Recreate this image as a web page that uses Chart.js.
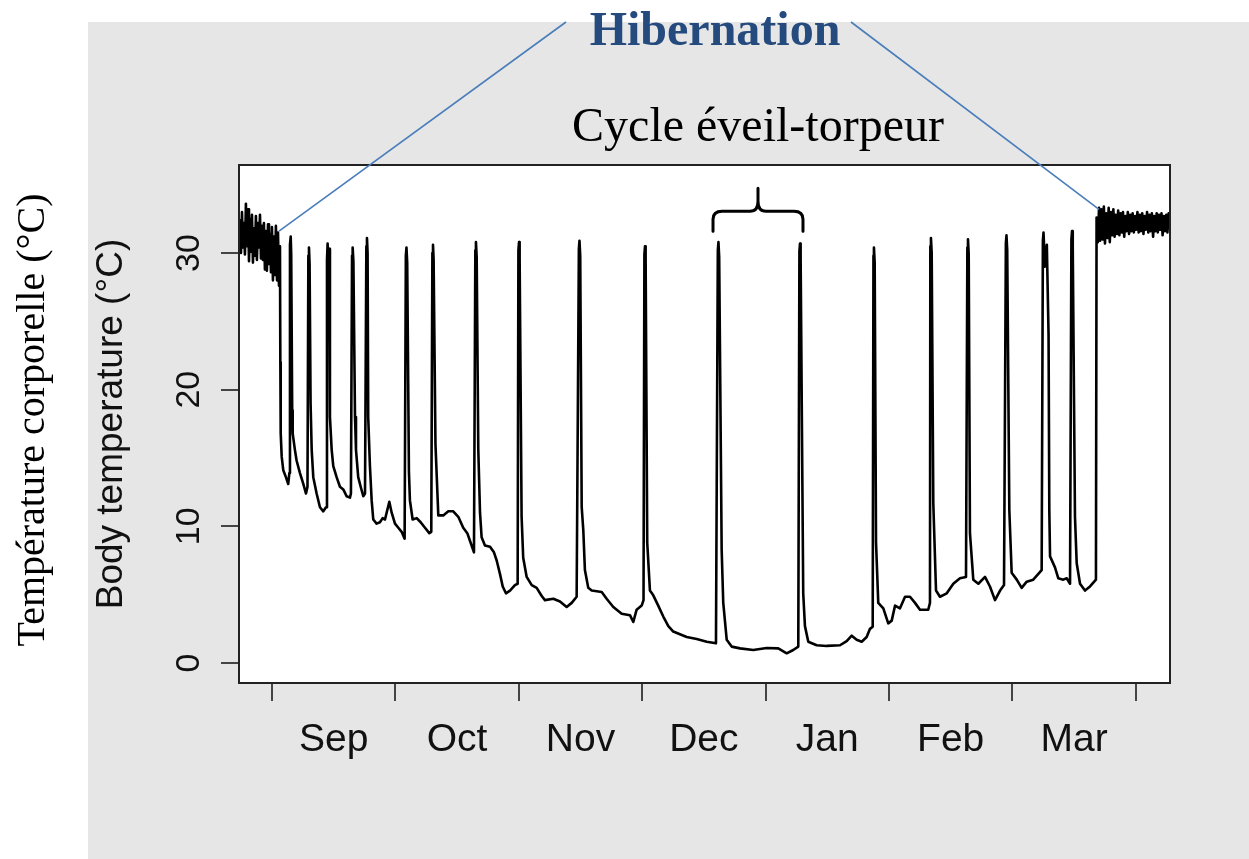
<!DOCTYPE html>
<html>
<head>
<meta charset="utf-8">
<title>Hibernation - température corporelle</title>
<script src="https://cdn.jsdelivr.net/npm/chart.js@4.4.1/dist/chart.umd.min.js"></script>
<style>
  html, body { margin: 0; padding: 0; background: #fff; }
  #wrap { position: relative; width: 1249px; height: 859px; }
</style>
</head>
<body>
<div id="wrap"><canvas id="chart" width="1249" height="859"></canvas></div>
<script>
// x = position in months, 0 = start of September (one unit per month tick)
const monthLabels = ['Sep', 'Oct', 'Nov', 'Dec', 'Jan', 'Feb', 'Mar'];
const monthTicks = [0, 1, 2, 3, 4, 5, 6, 7];
const tempTicks = [0, 10, 20, 30];

// euthermic phase before hibernation (noisy band)
const activeStartMonth = [-0.267, -0.259, -0.251, -0.243, -0.235, -0.227, -0.219, -0.211, -0.203, -0.194,
  -0.186, -0.178, -0.170, -0.162, -0.154, -0.146, -0.138, -0.130, -0.122, -0.113,
  -0.105, -0.097, -0.089, -0.081, -0.073, -0.065, -0.057, -0.049, -0.041, -0.032,
  -0.024, -0.016, -0.008, 0, 0.008, 0.016, 0.024, 0.032, 0.041, 0.049, 0.057, 0.065];
const activeStartTemp = [30.6, 32.4, 30.0, 33.0, 30.4, 32.2, 29.9, 33.6, 30.5, 33.2,
  29.4, 32.5, 30.1, 32.8, 29.3, 31.8, 29.8, 32.7, 29.5, 32.2,
  30.4, 32.8, 29.6, 32.0, 29.5, 32.2, 28.8, 31.6, 28.7, 32.1,
  29.2, 31.4, 28.6, 31.9, 28.0, 31.2, 28.4, 32.0, 28.0, 31.5, 27.6, 30.5];

// hibernation: torpor bouts separated by arousals (one line per arousal + following torpor)
const hibernationMonth = [
  0.068, 0.071, 0.079, 0.092, 0.113, 0.132, 0.141,
  0.146, 0.152, 0.156, 0.164, 0.168, 0.186, 0.200, 0.227, 0.254, 0.276, 0.288,
  0.295, 0.300, 0.305, 0.313, 0.322, 0.335, 0.362, 0.389, 0.416, 0.438,
  0.446, 0.451, 0.457, 0.464, 0.470, 0.484, 0.497, 0.524, 0.551, 0.578, 0.605, 0.632, 0.640,
  0.649, 0.654, 0.660, 0.673, 0.681, 0.699, 0.719, 0.740, 0.754,
  0.765, 0.770, 0.775, 0.780, 0.794, 0.808, 0.821, 0.848, 0.875, 0.897, 0.916, 0.951, 0.970, 0.997, 1.024, 1.051, 1.075,
  1.085, 1.090, 1.096, 1.110, 1.118, 1.140, 1.173, 1.205, 1.240, 1.275, 1.291,
  1.300, 1.305, 1.310, 1.325, 1.348, 1.388, 1.429, 1.469, 1.510, 1.550, 1.583, 1.610, 1.637,
  1.648, 1.653, 1.659, 1.672, 1.686, 1.699, 1.726, 1.767, 1.799, 1.821, 1.848, 1.870, 1.896, 1.929, 1.969, 1.991,
  1.997, 2.002, 2.007, 2.023, 2.036, 2.064, 2.105, 2.145, 2.186, 2.212, 2.280, 2.334, 2.388, 2.429, 2.469,
  2.487, 2.492, 2.498, 2.510, 2.523, 2.536, 2.563, 2.591, 2.672, 2.712, 2.766, 2.834, 2.901, 2.928, 2.955, 2.996, 3.011,
  3.018, 3.023, 3.028, 3.041, 3.063, 3.090, 3.130, 3.171, 3.212, 3.252, 3.306, 3.361, 3.442, 3.523, 3.598,
  3.613, 3.618, 3.624, 3.644, 3.657, 3.685, 3.725, 3.793, 3.900, 4.009, 4.103, 4.171, 4.224, 4.265,
  4.274, 4.279, 4.284, 4.305, 4.319, 4.346, 4.414, 4.495, 4.603, 4.657, 4.698, 4.738, 4.779, 4.819, 4.846, 4.868,
  4.874, 4.878, 4.884, 4.895, 4.913, 4.954, 4.994, 5.022, 5.049, 5.089, 5.130, 5.170, 5.211, 5.251, 5.318, 5.332,
  5.335, 5.340, 5.346, 5.359, 5.381, 5.413, 5.468, 5.521, 5.575, 5.624,
  5.635, 5.640, 5.646, 5.656, 5.683, 5.724, 5.778, 5.818, 5.859, 5.900, 5.932,
  5.947, 5.952, 5.958, 5.975, 5.994, 6.035, 6.075, 6.116, 6.169, 6.237,
  6.247, 6.252, 6.264, 6.279, 6.293, 6.299, 6.305, 6.345, 6.372, 6.412, 6.440, 6.467,
  6.478, 6.483, 6.489, 6.507, 6.521, 6.548, 6.588, 6.629, 6.677
];
const hibernationTemp = [
  22.0, 16.8, 15.1, 14.1, 13.6, 13.1, 13.9,
  30.6, 31.2, 29.9, 18.5, 16.8, 15.6, 14.8, 13.9, 13.1, 12.4, 12.9,
  29.8, 30.4, 29.2, 19.0, 15.6, 13.6, 12.4, 11.4, 11.1, 11.4,
  29.5, 30.7, 29.0, 30.3, 18.0, 15.6, 14.4, 13.6, 12.9, 12.7, 12.2, 12.1, 12.4,
  29.8, 30.4, 29.4, 18.0, 15.6, 13.6, 12.9, 12.2, 12.4,
  30.5, 31.1, 30.0, 18.0, 14.4, 11.9, 10.5, 10.2, 10.3, 10.6, 10.5, 11.8, 11.0, 10.2, 9.9, 9.6, 9.1,
  29.8, 30.4, 29.3, 14.0, 11.9, 10.5, 10.6, 10.3, 9.9, 9.5, 9.6,
  30.0, 30.6, 29.5, 16.0, 10.8, 10.8, 11.1, 11.1, 10.7, 9.9, 9.5, 8.8, 8.1,
  30.2, 30.8, 29.7, 15.6, 11.0, 9.2, 8.6, 8.5, 8.1, 7.5, 6.5, 5.6, 5.1, 5.3, 5.7, 5.8,
  30.2, 30.8, 29.6, 10.7, 7.7, 6.3, 5.7, 5.5, 4.9, 4.6, 4.7, 4.5, 4.1, 4.4, 4.85,
  30.3, 30.9, 29.8, 11.4, 9.7, 6.8, 5.5, 5.3, 5.2, 4.7, 4.1, 3.6, 3.5, 3.0, 3.9, 4.2, 4.6,
  29.9, 30.5, 29.5, 8.8, 5.3, 4.95, 4.2, 3.4, 2.7, 2.3, 2.1, 1.9, 1.75, 1.56, 1.44,
  30.2, 30.8, 29.7, 8.3, 4.4, 1.7, 1.2, 1.07, 0.95, 1.1, 1.07, 0.71, 0.95, 1.2,
  30.1, 30.7, 29.6, 5.1, 2.7, 1.56, 1.3, 1.25, 1.3, 1.6, 2.0, 1.7, 1.56, 1.9, 2.5, 2.65,
  29.8, 30.4, 29.3, 8.8, 4.4, 4.0, 2.9, 3.1, 4.2, 4.0, 4.85, 4.85, 4.4, 3.9, 3.9, 4.4,
  30.5, 31.1, 30.0, 11.7, 5.3, 4.85, 5.1, 5.8, 6.2, 6.3,
  30.4, 31.0, 29.9, 9.5, 6.1, 5.8, 6.3, 5.6, 4.6, 5.3, 5.7,
  30.7, 31.3, 30.2, 11.2, 6.6, 6.1, 5.5, 5.95, 6.1, 6.8,
  30.9, 31.5, 29.0, 30.6, 24.0, 11.2, 7.8, 7.0, 6.2, 6.1, 6.2, 5.8,
  31.0, 31.6, 30.5, 10.7, 7.3, 5.8, 5.3, 5.6, 6.1
];

// euthermic phase after hibernation (noisy band)
const activeEndMonth = [6.682, 6.692, 6.702, 6.711, 6.721, 6.731, 6.741, 6.750, 6.760, 6.770,
  6.780, 6.789, 6.799, 6.809, 6.818, 6.828, 6.838, 6.848, 6.857, 6.867,
  6.877, 6.887, 6.896, 6.906, 6.916, 6.925, 6.935, 6.945, 6.955, 6.964,
  6.974, 6.984, 6.994, 7.003, 7.013, 7.023, 7.033, 7.042, 7.052, 7.062,
  7.071, 7.081, 7.091, 7.101, 7.110, 7.120, 7.130, 7.140, 7.149, 7.159,
  7.169, 7.178, 7.188, 7.198, 7.208, 7.217, 7.227, 7.237, 7.247, 7.256, 7.266, 7.276];
const activeEndTemp = [32.6, 30.8, 33.3, 30.9, 33.2, 31.0, 33.4, 30.7, 32.9, 31.1,
  33.3, 30.8, 33.0, 31.3, 33.2, 31.2, 32.8, 31.4, 33.1, 31.3,
  32.9, 31.5, 33.0, 31.2, 32.7, 31.6, 33.0, 31.4, 32.8, 31.6,
  32.9, 31.5, 32.7, 31.7, 33.0, 31.5, 32.8, 31.6, 32.9, 31.4,
  32.7, 31.7, 33.0, 31.5, 32.8, 31.6, 32.9, 31.2, 32.7, 31.6,
  32.9, 31.5, 32.8, 31.7, 32.9, 31.3, 32.7, 31.6, 32.8, 31.5, 32.9, 31.8];

// annotation anchors (month, °C)
const hibStartAnchor = [0.057, 31.6];
const hibEndAnchor = [6.702, 33.2];
const cycleSpan = [3.574, 4.303];
const cycleBraceTemp = 31.6;

const months = [...activeStartMonth, ...hibernationMonth, ...activeEndMonth];
const temps = [...activeStartTemp, ...hibernationTemp, ...activeEndTemp];
const trace = months.map((m, i) => ({ x: m, y: temps[i] }));

// label positions sit half-way between month ticks
const labelPos = monthTicks.slice(0, -1).map((t, i) => (t + monthTicks[i + 1]) / 2);
const xTickValues = [...monthTicks, ...labelPos].sort((a, b) => a - b);

const SANS = '"Liberation Sans", Arial, sans-serif';
const SERIF = '"Liberation Serif", "Times New Roman", serif';

// gray panel + white plot region
const backdrop = {
    id: 'backdrop',
    beforeDraw(chart) {
        const { ctx, chartArea: a } = chart;
        ctx.save();
        ctx.fillStyle = '#e6e6e6';
        ctx.fillRect(88, 22, chart.width - 88, chart.height - 22);
        ctx.fillStyle = '#ffffff';
        ctx.fillRect(a.left, a.top, a.right - a.left, a.bottom - a.top);
        ctx.restore();
    },
    afterDatasetsDraw(chart) {
        const { ctx, chartArea: a } = chart;
        ctx.save();
        ctx.strokeStyle = '#222';
        ctx.lineWidth = 2;
        ctx.strokeRect(a.left, a.top, a.right - a.left, a.bottom - a.top);
        ctx.restore();
    }
};

// titles, leader lines and brace
const notes = {
    id: 'notes',
    afterDraw(chart) {
        const { ctx, scales: { x, y } } = chart;
        ctx.save();

        ctx.strokeStyle = '#4a7ebb';
        ctx.lineWidth = 1.6;
        ctx.beginPath();
        ctx.moveTo(566, 22);
        ctx.lineTo(x.getPixelForValue(hibStartAnchor[0]), y.getPixelForValue(hibStartAnchor[1]));
        ctx.moveTo(851, 22);
        ctx.lineTo(x.getPixelForValue(hibEndAnchor[0]), y.getPixelForValue(hibEndAnchor[1]));
        ctx.stroke();

        ctx.textAlign = 'center';
        ctx.textBaseline = 'alphabetic';
        ctx.fillStyle = '#254a7e';
        ctx.font = 'bold 48px ' + SERIF;
        ctx.fillText('Hibernation', 715, 45);
        ctx.fillStyle = '#000';
        ctx.font = '48px ' + SERIF;
        ctx.fillText('Cycle éveil-torpeur', 758, 141);

        // brace over one arousal-torpor cycle
        const b0 = x.getPixelForValue(cycleSpan[0]);
        const b1 = x.getPixelForValue(cycleSpan[1]);
        const by = y.getPixelForValue(cycleBraceTemp);
        const mid = (b0 + b1) / 2;
        ctx.strokeStyle = '#000';
        ctx.lineWidth = 3;
        ctx.lineCap = 'round';
        ctx.beginPath();
        ctx.moveTo(b0, by);
        ctx.lineTo(b0, by - 12);
        ctx.quadraticCurveTo(b0, by - 20, b0 + 9, by - 20);
        ctx.lineTo(mid - 8, by - 20);
        ctx.quadraticCurveTo(mid, by - 20, mid, by - 30);
        ctx.lineTo(mid, by - 43);
        ctx.moveTo(b1, by);
        ctx.lineTo(b1, by - 12);
        ctx.quadraticCurveTo(b1, by - 20, b1 - 9, by - 20);
        ctx.lineTo(mid + 8, by - 20);
        ctx.quadraticCurveTo(mid, by - 20, mid, by - 30);
        ctx.stroke();

        // french axis label on the far left
        ctx.translate(33, 420);
        ctx.rotate(-Math.PI / 2);
        ctx.textBaseline = 'middle';
        ctx.font = '40px ' + SERIF;
        ctx.fillText('Température corporelle (°C)', 0, 0);
        ctx.restore();
    }
};

new Chart(document.getElementById('chart'), {
    type: 'line',
    data: {
        datasets: [{
            data: trace,
            borderColor: '#000',
            borderWidth: 2.6,
            borderJoinStyle: 'round',
            pointRadius: 0,
            tension: 0,
            fill: false
        }]
    },
    options: {
        responsive: false,
        animation: false,
        devicePixelRatio: 1,
        layout: { padding: { left: 80, right: 79, top: 165, bottom: 76 } },
        plugins: {
            legend: { display: false },
            tooltip: { enabled: false }
        },
        scales: {
            x: {
                type: 'linear',
                min: -0.267,
                max: 7.277,
                afterBuildTicks: (s) => { s.ticks = xTickValues.map(v => ({ value: v })); },
                afterFit: (s) => { s.height = 100; },
                border: { display: false },
                grid: {
                    drawOnChartArea: false,
                    tickLength: 18,
                    lineWidth: 2,
                    color: (c) => (c.tick && Number.isInteger(c.tick.value)) ? '#444' : 'rgba(0,0,0,0)'
                },
                ticks: {
                    autoSkip: false,
                    minRotation: 0,
                    maxRotation: 0,
                    padding: 16,
                    color: '#111',
                    font: { family: SANS, size: 39 },
                    callback: (v) => {
                        const i = labelPos.indexOf(v);
                        return i >= 0 ? monthLabels[i] : '';
                    }
                }
            },
            y: {
                type: 'linear',
                min: -1.463,
                max: 36.44,
                afterBuildTicks: (s) => { s.ticks = tempTicks.map(v => ({ value: v })); },
                afterFit: (s) => { s.width = 159; },
                border: { display: false },
                grid: { drawOnChartArea: false, tickLength: 18, lineWidth: 2, color: '#444' },
                ticks: {
                    minRotation: 90,
                    maxRotation: 90,
                    crossAlign: 'center',
                    padding: 12,
                    color: '#111',
                    font: { family: SANS, size: 34 }
                },
                title: {
                    display: true,
                    text: 'Body temperature (°C)',
                    color: '#111',
                    font: { family: SANS, size: 37 },
                    padding: { top: 10, bottom: 0 }
                }
            }
        }
    },
    plugins: [backdrop, notes]
});
</script>
</body>
</html>
